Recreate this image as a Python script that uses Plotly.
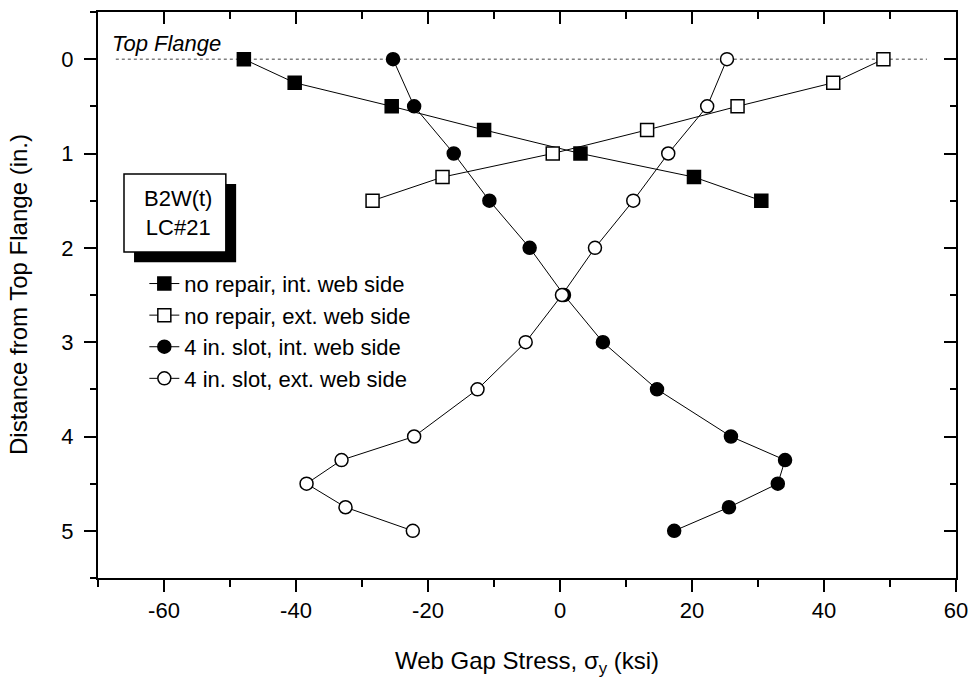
import plotly.graph_objects as go

# Depth below the top flange (in.) and web gap stress (ksi) for each gauge line
depth_nr = [0, 0.25, 0.5, 0.75, 1.0, 1.25, 1.5]
stress_nr_int = [-47.9, -40.2, -25.5, -11.5, 3.1, 20.3, 30.5]
stress_nr_ext = [49.0, 41.4, 26.9, 13.2, -1.1, -17.8, -28.4]

depth_slot = [0, 0.5, 1.0, 1.5, 2.0, 2.5, 3.0, 3.5, 4.0, 4.25, 4.5, 4.75, 5.0]
stress_slot_int = [-25.3, -22.1, -16.1, -10.7, -4.6, 0.6, 6.5, 14.7, 25.9, 34.1, 33.0, 25.6, 17.3]
stress_slot_ext = [25.3, 22.3, 16.4, 11.1, 5.3, 0.3, -5.2, -12.5, -22.1, -33.1, -38.4, -32.5, -22.3]

series_names = [
    "no repair, int. web side",
    "no repair, ext. web side",
    "4 in. slot, int. web side",
    "4 in. slot, ext. web side",
]

# tick positions and labels (plain hyphen for negatives)
x_tickvals = [-60, -40, -20, 0, 20, 40, 60]
x_ticktext = ["-60", "-40", "-20", "0", "20", "40", "60"]
y_tickvals = [0, 1, 2, 3, 4, 5]
y_ticktext = ["0", "1", "2", "3", "4", "5"]

x_range = [-70, 60]
y_range = [5.5, -0.5]
flange_line_x = [-67.3, 55.6]

FONT = "Arial, 'Liberation Sans', sans-serif"
BLACK = "#000000"

fig = go.Figure()

styles = [
    (stress_nr_int, depth_nr, "square", BLACK),
    (stress_nr_ext, depth_nr, "square", "white"),
    (stress_slot_int, depth_slot, "circle", BLACK),
    (stress_slot_ext, depth_slot, "circle", "white"),
]
for (xs, ys, sym, fill), name in zip(styles, series_names):
    fig.add_trace(go.Scatter(
        x=xs, y=ys, name=name, mode="lines+markers",
        line=dict(color=BLACK, width=1),
        marker=dict(symbol=sym, size=13, color=fill,
                    line=dict(color=BLACK, width=1.5)),
    ))

# companion axes carrying the inward ticks on the top and right frame
fig.add_trace(go.Scatter(x=[None], y=[None], xaxis="x2", yaxis="y2",
                         showlegend=False, hoverinfo="skip"))

# top flange reference line
fig.add_shape(type="line", xref="x", yref="y",
              x0=flange_line_x[0], x1=flange_line_x[1], y0=0, y1=0,
              line=dict(color="#808080", width=1.5, dash="dot"), layer="below")
fig.add_annotation(text="<i>Top Flange</i>", xref="paper", yref="paper",
                   x=0.0145, y=0.9435, xanchor="left", yanchor="middle",
                   showarrow=False, font=dict(family=FONT, size=22, color=BLACK))

# specimen / load case label box with drop shadow
fig.add_shape(type="rect", xref="paper", yref="paper",
              x0=0.042, x1=0.161, y0=0.558, y1=0.696,
              fillcolor=BLACK, line=dict(width=0))
fig.add_shape(type="rect", xref="paper", yref="paper",
              x0=0.0303, x1=0.149, y0=0.576, y1=0.7138,
              fillcolor="white", line=dict(color=BLACK, width=1.5))
fig.add_annotation(text="B2W(t)<br>LC#21", xref="paper", yref="paper",
                   x=0.093, y=0.645, xanchor="center", yanchor="middle",
                   showarrow=False, align="center",
                   font=dict(family=FONT, size=22, color=BLACK))

# vertical axis title
fig.add_annotation(text="Distance from Top Flange (in.)", xref="paper",
                   yref="paper", x=-0.0932, y=0.5, xanchor="center",
                   yanchor="middle", textangle=-90, showarrow=False,
                   font=dict(family=FONT, size=24, color=BLACK))

tick_font = dict(family=FONT, size=22, color=BLACK)

fig.update_layout(
    width=972, height=681,
    margin=dict(l=98, r=16, t=12, b=103, autoexpand=False),
    paper_bgcolor="white", plot_bgcolor="white",
    font=dict(family=FONT, size=22, color=BLACK),
    showlegend=True,
    legend=dict(x=0.054, y=0.557, xanchor="left", yanchor="top",
                bgcolor="rgba(0,0,0,0)", borderwidth=0,
                font=dict(family=FONT, size=22, color=BLACK),
                tracegroupgap=0),
    xaxis=dict(
        range=x_range, tickmode="array", tickvals=x_tickvals,
        ticktext=x_ticktext, ticks="outside", ticklen=12,
        tickwidth=2, tickcolor=BLACK, showline=True, linewidth=2,
        linecolor=BLACK, mirror=True, showgrid=False, zeroline=False,
        tickfont=tick_font, automargin=False,
        minor=dict(dtick=10, tick0=0, ticks="outside", ticklen=7, tickwidth=2,
                   tickcolor=BLACK, showgrid=False),
        title=dict(text="Web Gap Stress, σ<sub>y</sub> (ksi)",
                   font=dict(family=FONT, size=24, color=BLACK), standoff=30),
    ),
    yaxis=dict(
        range=y_range, tickmode="array", tickvals=y_tickvals,
        ticktext=y_ticktext, ticks="outside", ticklen=12,
        tickwidth=2, tickcolor=BLACK, showline=True, linewidth=2,
        linecolor=BLACK, mirror=True, showgrid=False, zeroline=False,
        tickfont=tick_font, ticklabelstandoff=6, automargin=False,
        minor=dict(dtick=0.5, tick0=0, ticks="outside", ticklen=6, tickwidth=2,
                   tickcolor=BLACK, showgrid=False),
    ),
    xaxis2=dict(
        overlaying="x", side="top", range=x_range, tickmode="array",
        tickvals=x_tickvals, ticks="inside", ticklen=12, tickwidth=2,
        tickcolor=BLACK, showticklabels=False, showline=False,
        showgrid=False, zeroline=False, automargin=False,
        minor=dict(dtick=10, tick0=0, ticks="inside", ticklen=7, tickwidth=2,
                   tickcolor=BLACK, showgrid=False),
    ),
    yaxis2=dict(
        overlaying="y", side="right", range=y_range, tickmode="array",
        tickvals=y_tickvals, ticks="inside", ticklen=12, tickwidth=2,
        tickcolor=BLACK, showticklabels=False, showline=False,
        showgrid=False, zeroline=False, automargin=False,
        minor=dict(dtick=0.5, tick0=0, ticks="inside", ticklen=6, tickwidth=2,
                   tickcolor=BLACK, showgrid=False),
    ),
)

fig.write_html("out.html")
